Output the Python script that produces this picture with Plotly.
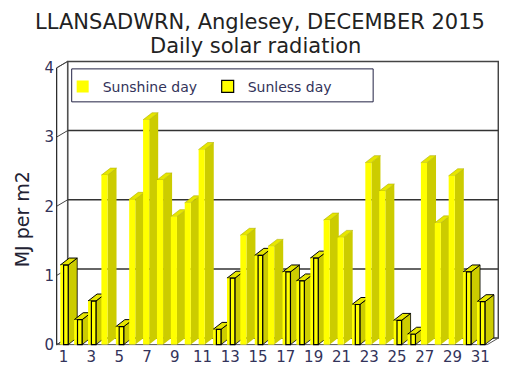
import plotly.graph_objects as go

# ---------------- data ----------------
days = list(range(1, 32))
radiation = [1.15, 0.36, 0.63, 2.45, 0.26, 2.10, 3.25, 2.38, 1.85, 2.05,
             2.82, 0.22, 0.96, 1.58, 1.29, 1.42, 1.05, 0.92, 1.25, 1.80,
             1.55, 0.58, 2.63, 2.22, 0.35, 0.15, 2.63, 1.76, 2.44, 1.05, 0.62]
sunless = [1, 1, 1, 0, 1, 0, 0, 0, 0, 0,
           0, 1, 1, 0, 1, 0, 1, 1, 1, 0,
           0, 1, 0, 0, 1, 1, 0, 0, 0, 1, 1]
y_ticks = [0, 1, 2, 3, 4]
x_tick_days = list(range(1, 32, 2))
series_names = ["Sunshine day", "Sunless day"]
title_lines = ["LLANSADWRN, Anglesey, DECEMBER 2015", "Daily solar radiation"]
y_title = "MJ per m2"

# ---------------- geometry (pixel targets) ----------------
W, H = 512, 378
PX_DAY = 13.87          # px per day
PX_UNIT = 69.25         # px per MJ
X0_PX = 57              # pixel of x = 0.5
Y0_PX = 345             # pixel of y = 0
WDX, WDY = 11 / PX_DAY, 6.5 / PX_UNIT     # wall depth
BDX, BDY = 9 / PX_DAY, 7 / PX_UNIT        # bar depth
X_MIN = 0.38
X_MAX = 31.5 + WDX + 0.05
Y_MIN = -0.02
Y_MAX = 4 + WDY + 0.02

left = X0_PX - (0.5 - X_MIN) * PX_DAY
right = W - (X0_PX + (X_MAX - 0.5) * PX_DAY)
bottom = H - (Y0_PX - Y_MIN * PX_UNIT)
top = Y0_PX - Y_MAX * PX_UNIT
pw = W - left - right
ph = H - top - bottom


def px_x(px):
    return (px - left) / pw


def px_y(py):
    return (H - bottom - py) / ph


YELLOW = "#FFFF00"
DARK = "#CCCC00"
TOPC = "#E6E600"
TXT = "#33335a"
FONT = "DejaVu Sans"

SUN_OFF, SUN_W = -0.28, 0.44
SL_FILL_OFF = -0.24
SL_OFF, SL_W = 0.0, 0.33

shapes = []
wall_line = dict(color="#555555", width=1)
# back wall
shapes.append(dict(type="rect", xref="x", yref="y", x0=0.5 + WDX, x1=31.5 + WDX,
                   y0=WDY, y1=4 + WDY, line=dict(color="#444444", width=1.5),
                   fillcolor="rgba(0,0,0,0)", layer="below"))
# left wall
shapes.append(dict(type="path", xref="x", yref="y",
                   path=f"M0.5,0 L0.5,4 L{0.5+WDX},{4+WDY} L{0.5+WDX},{WDY} Z",
                   line=wall_line, fillcolor="rgba(0,0,0,0)", layer="below"))
# floor
shapes.append(dict(type="path", xref="x", yref="y",
                   path=f"M0.5,0 L31.5,0 L{31.5+WDX},{WDY} L{0.5+WDX},{WDY} Z",
                   line=wall_line, fillcolor="rgba(0,0,0,0)", layer="below"))
for k in y_ticks[1:-1]:
    shapes.append(dict(type="line", xref="x", yref="y", x0=0.5 + WDX, x1=31.5 + WDX,
                       y0=k + WDY, y1=k + WDY, line=dict(color="#333333", width=1.5),
                       layer="below"))
for k in y_ticks:
    shapes.append(dict(type="line", xref="x", yref="y", x0=0.5, x1=0.5 + WDX,
                       y0=k, y1=k + WDY, line=dict(color="#444444", width=1),
                       layer="below"))
# front y axis line
shapes.append(dict(type="line", xref="x", yref="y", x0=0.5, x1=0.5, y0=0, y1=4,
                   line=dict(color="#222222", width=1), layer="below"))

# 3D faces of each bar
for d, v, s in zip(days, radiation, sunless):
    if s:
        xa, xb = d + SL_FILL_OFF, d + SL_OFF + SL_W
    else:
        xa, xb = d + SUN_OFF, d + SUN_OFF + SUN_W
    edge = dict(color="black", width=1) if s else dict(color="#B0B000", width=0.6)
    shapes.append(dict(type="path", xref="x", yref="y",
                       path=f"M{xb},0 L{xb},{v} L{xb+BDX},{v+BDY} L{xb+BDX},{BDY} Z",
                       fillcolor=DARK, line=dict(color="black", width=0.8) if s else dict(width=0),
                       layer="below"))
    shapes.append(dict(type="path", xref="x", yref="y",
                       path=f"M{xa},{v} L{xb},{v} L{xb+BDX},{v+BDY} L{xa+BDX},{v+BDY} Z",
                       fillcolor=TOPC, line=edge, layer="below"))

sun_x = [d for d, s in zip(days, sunless) if not s]
sun_y = [v for v, s in zip(radiation, sunless) if not s]
sl_x = [d for d, s in zip(days, sunless) if s]
sl_y = [v for v, s in zip(radiation, sunless) if s]

fig = go.Figure()
fig.add_trace(go.Bar(x=sun_x, y=sun_y, name=series_names[0], width=SUN_W, offset=SUN_OFF,
                     marker=dict(color=YELLOW, line=dict(width=0))))
fig.add_trace(go.Bar(x=sl_x, y=sl_y, name=series_names[1], width=SL_OFF - SL_FILL_OFF,
                     offset=SL_FILL_OFF, showlegend=False, hoverinfo="skip",
                     marker=dict(color=YELLOW, line=dict(width=0))))
fig.add_trace(go.Bar(x=sl_x, y=sl_y, name=series_names[1], width=SL_W, offset=SL_OFF,
                     marker=dict(color=YELLOW, line=dict(color="black", width=1.2))))

# legend frame
shapes.append(dict(type="rect", xref="paper", yref="paper",
                   x0=px_x(72), x1=px_x(373), y0=px_y(102), y1=px_y(69),
                   line=dict(color="#222244", width=1), fillcolor="rgba(0,0,0,0)",
                   layer="above"))

fig.update_layout(
    width=W, height=H,
    margin=dict(l=left, r=right, t=top, b=bottom, pad=0, autoexpand=False),
    paper_bgcolor="white", plot_bgcolor="rgba(0,0,0,0)",
    barmode="overlay",
    showlegend=True,
    legend=dict(orientation="h", x=px_x(63), y=px_y(71), xanchor="left", yanchor="top",
                font=dict(family=FONT, size=14, color=TXT),
                bgcolor="rgba(0,0,0,0)", borderwidth=0,
                entrywidth=100, entrywidthmode="pixels", traceorder="normal"),
    shapes=shapes,
    xaxis=dict(range=[X_MIN, X_MAX], tickvals=x_tick_days, ticktext=[str(t) for t in x_tick_days],
               showgrid=False, zeroline=False, showline=False, ticks="", automargin=False,
               tickfont=dict(family=FONT, size=15, color=TXT)),
    yaxis=dict(range=[Y_MIN, Y_MAX], tickvals=y_ticks, ticktext=[str(t) for t in y_ticks],
               showgrid=False, zeroline=False, showline=False, ticks="", automargin=False,
               tickfont=dict(family=FONT, size=15, color=TXT)),
    annotations=[
        dict(text=title_lines[0], x=px_x(W / 2 + 4), y=px_y(22), xref="paper", yref="paper",
             showarrow=False, xanchor="center", yanchor="middle",
             font=dict(family=FONT, size=21, color="#222222")),
        dict(text=title_lines[1], x=px_x(W / 2), y=px_y(46), xref="paper", yref="paper",
             showarrow=False, xanchor="center", yanchor="middle",
             font=dict(family=FONT, size=21, color="#222222")),
        dict(text=y_title, x=px_x(22), y=px_y(220), xref="paper", yref="paper",
             showarrow=False, xanchor="center", yanchor="middle", textangle=-90,
             font=dict(family=FONT, size=19, color="#222233")),
    ],
)

fig.write_html("out.html", config={"displayModeBar": False},
               post_script="document.body.style.margin='0';")
